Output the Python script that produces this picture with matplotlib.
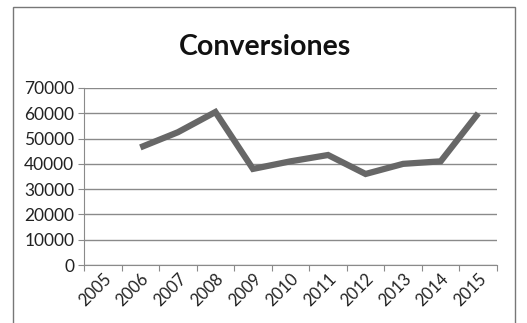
import numpy as np
import matplotlib
matplotlib.use("Agg")
import matplotlib.pyplot as plt
from matplotlib.patches import Rectangle

years = ["2005", "2006", "2007", "2008", "2009", "2010", "2011", "2012", "2013", "2014", "2015"]
conversiones = [np.nan, 46500, 52500, 60500, 38000, 41000, 43500, 36000, 40000, 41000, 60000]
yticks = [0, 10000, 20000, 30000, 40000, 50000, 60000, 70000]

plt.rcParams['font.family'] = ['Lato', 'DejaVu Sans']

fig = plt.figure(figsize=(5.27, 3.23), dpi=100)
W, H = 527, 323
ax = fig.add_axes([84 / W, 1 - 265 / H, (497 - 84) / W, (265 - 88) / H])

x = np.arange(len(years))
ax.plot(x, conversiones, color='#676767', linewidth=4.5, solid_joinstyle='miter', solid_capstyle='butt')

ax.set_ylim(0, 70000)
ax.set_xlim(-0.5, len(years) - 0.5)
ax.set_yticks(yticks)
ax.set_yticklabels([str(v) for v in yticks], fontsize=12.5, color='#222222')
ax.yaxis.grid(True, color='#8a8a8a', linewidth=1)
ax.set_axisbelow(True)

ax.set_xticks(np.arange(-0.5, len(years), 1.0))
ax.set_xticklabels([])
ax.set_xticks(x, minor=True)
ax.set_xticklabels(years, minor=True, rotation=45, ha='right', va='top',
                   rotation_mode='anchor', fontsize=12, color='#222222')
ax.tick_params(axis='x', which='minor', length=0, pad=4)
ax.tick_params(axis='x', which='major', length=4, direction='out', color='#8a8a8a')
ax.tick_params(axis='y', length=4, direction='out', color='#8a8a8a', pad=3)

for s in ['top', 'right']:
    ax.spines[s].set_visible(False)
ax.spines['left'].set_color('#8a8a8a')
ax.spines['bottom'].set_color('#8a8a8a')

fig.text(265 / W, 1 - 47 / H, "Conversiones", ha='center', va='center',
         fontsize=20.5, fontweight='bold', color='#111111')

fig.patches.append(Rectangle((13 / W, -0.01), (515 - 13) / W, 1 - 7 / H + 0.01,
                             transform=fig.transFigure, fill=False,
                             edgecolor='#777777', linewidth=1))

fig.savefig("out.png", dpi=100)
